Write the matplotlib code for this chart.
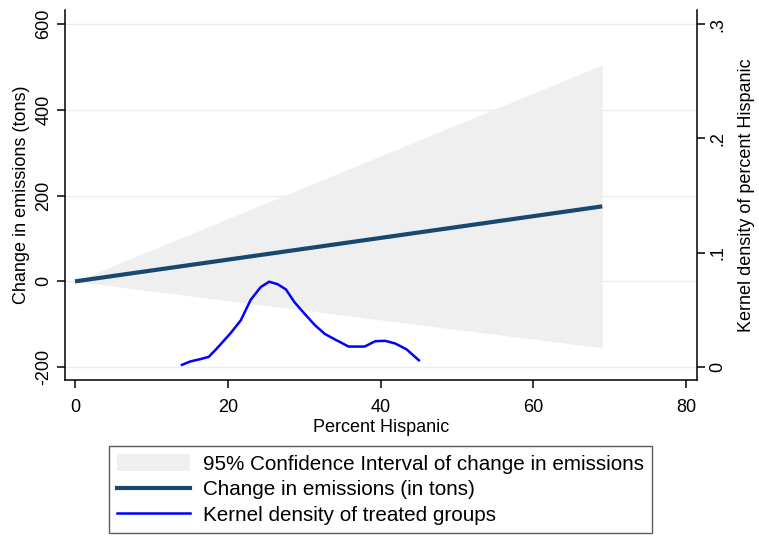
import matplotlib
matplotlib.use("Agg")
import matplotlib.pyplot as plt
from matplotlib.patches import Patch
from matplotlib.lines import Line2D

plt.rcParams['font.family'] = ['Liberation Sans', 'DejaVu Sans']

# Data
pct = [0, 69]
change = [0, 175]
ci_low = [0, -155]
ci_high = [0, 505]

kd_x = [14.0, 15.1, 16.4, 17.5, 18.6, 20.4, 21.7, 23.0, 24.3, 25.4, 26.5, 27.6,
        28.7, 30.0, 31.4, 32.7, 34.2, 35.8, 37.9, 39.3, 40.6, 41.9, 43.4, 45.0]
kd_y = [0.002, 0.005, 0.007, 0.009, 0.0166, 0.030, 0.041, 0.059, 0.070, 0.0747, 0.0726, 0.068,
        0.057, 0.047, 0.0367, 0.029, 0.0236, 0.018, 0.018, 0.0227, 0.023, 0.0207, 0.0155, 0.006]

xticks = [0, 20, 40, 60, 80]
yticks_left = [-200, 0, 200, 400, 600]
yticks_right = [0, 0.1, 0.2, 0.3]
yticklabels_right = ['0', '.1', '.2', '.3']

W, H = 759, 537
fig = plt.figure(figsize=(W / 100, H / 100), dpi=100)
L, R, B, T = 65, 697, 380, 10
ax = fig.add_axes([L / W, 1 - B / H, (R - L) / W, (B - T) / H])

ax.set_xlim(-1.31, 81.4)
ylo, yhi = -230, 633
ax.set_ylim(ylo, yhi)

for yv in yticks_left:
    ax.axhline(yv, color='#e6eef0', lw=1.0, zorder=0)

ax.fill_between(pct, ci_low, ci_high, color='#efefef', lw=0, zorder=1)
ax.plot(pct, change, color='#1a476f', lw=3.0, zorder=3, solid_capstyle='butt')

ax2 = ax.twinx()
# align: left -200 <-> right 0; left 600 <-> right 0.3
ax2.set_ylim((ylo + 200) * 0.3 / 800, (yhi + 200) * 0.3 / 800)
ax2.plot(kd_x, kd_y, color='#0000ff', lw=1.8, zorder=4)

for a in (ax, ax2):
    a.spines['top'].set_visible(False)
    a.patch.set_visible(False)
ax.spines['right'].set_visible(False)
ax2.spines['left'].set_visible(False)
ax2.spines['bottom'].set_visible(False)
for sp in ['left', 'bottom']:
    ax.spines[sp].set_linewidth(1.1)
ax2.spines['right'].set_linewidth(1.1)

ax.set_xticks(xticks)
ax.set_xticklabels([str(v) for v in xticks], fontsize=13)
ax.set_yticks(yticks_left)
ax.set_yticklabels([str(v) for v in yticks_left], fontsize=13, rotation=90, va='center')
ax2.set_yticks(yticks_right)
ax2.set_yticklabels(yticklabels_right, fontsize=13, rotation=90, va='center')
ax.tick_params(axis='x', length=6, width=1.1, pad=8)
ax.tick_params(axis='y', length=6, width=1.1, pad=3)
ax2.tick_params(axis='y', length=6, width=1.1, pad=3)

ax.set_xlabel('Percent Hispanic', fontsize=13, labelpad=2)
ax.set_ylabel('Change in emissions (tons)', fontsize=13, labelpad=4)
ax2.set_ylabel('Kernel density of percent Hispanic', fontsize=13, labelpad=8)

handles = [Patch(facecolor='#efefef', edgecolor='none'),
           Line2D([], [], color='#1a476f', lw=3.0),
           Line2D([], [], color='#0000ff', lw=1.8)]
labels = ['95% Confidence Interval of change in emissions',
          'Change in emissions (in tons)',
          'Kernel density of treated groups']
leg = fig.legend(handles, labels, loc='upper left',
                 bbox_to_anchor=(109 / W, 1 - 446 / H), fontsize=14.9,
                 frameon=True, fancybox=False, edgecolor='#333333',
                 handlelength=3.5, handleheight=0.85, handletextpad=0.62,
                 labelspacing=0.3, borderpad=0.4, borderaxespad=0)
leg.get_frame().set_linewidth(1.0)

fig.savefig('out.png', dpi=100)
